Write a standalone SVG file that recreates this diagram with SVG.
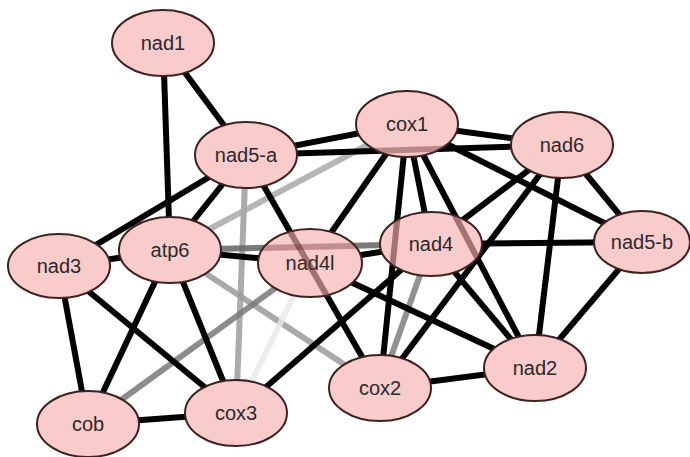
<svg xmlns="http://www.w3.org/2000/svg" width="690" height="457" viewBox="0 0 690 457">
  <style>
    .e { stroke: #000; stroke-width: 6; stroke-linecap: butt; fill: none; }
    .g { stroke-width: 6; fill: none; }
    .n ellipse { fill: #f9cbcb; stroke: #3e2222; stroke-width: 2; }
    .n text { font-family: "Liberation Sans", Arial, sans-serif; font-size: 20px; fill: #2a2a2a; text-anchor: middle; }
    .see { stroke-width: 6; fill: none; }
  </style>
  <defs>
    <clipPath id="clip-nad4l"><ellipse cx="310" cy="263" rx="51" ry="33"/></clipPath>
    <clipPath id="clip-nad4"><ellipse cx="431" cy="244" rx="50" ry="31"/></clipPath>
    <clipPath id="clip-cox1"><ellipse cx="407" cy="124" rx="50" ry="32"/></clipPath>
  </defs>
  <rect width="690" height="457" fill="#fff"/>

  <g id="connectors">
    <!-- weak interactions (grey) -->
    <line class="g" stroke="#9c9c9c" stroke-opacity="0.85" x1="246" y1="155" x2="236" y2="413"/>
    <line class="g" stroke="#a8a8a8" stroke-opacity="0.85" x1="407" y1="124" x2="170" y2="250"/>
    <line class="g" stroke="#6c6c6c" stroke-opacity="0.9" x1="170" y1="250" x2="431" y2="244"/>
    <line class="g" stroke="#9a9a9a" stroke-opacity="0.85" x1="170" y1="250" x2="380" y2="388"/>
    <line class="g" stroke="#787878" stroke-opacity="0.85" x1="88" y1="424" x2="310" y2="263"/>
    <line class="g" stroke="#e8e8e8" stroke-opacity="0.8" x1="236" y1="413" x2="310" y2="263"/>
    <line class="g" stroke="#858585" stroke-opacity="0.9" x1="380" y1="388" x2="431" y2="244"/>
    <!-- strong interactions (black) -->
    <line class="e" x1="163" y1="43" x2="246" y2="155"/>
    <line class="e" x1="163" y1="43" x2="170" y2="250"/>
    <line class="e" x1="246" y1="155" x2="407" y2="124"/>
    <line class="e" x1="246" y1="155" x2="562" y2="145"/>
    <line class="e" x1="246" y1="155" x2="59" y2="267"/>
    <line class="e" x1="246" y1="155" x2="170" y2="250"/>
    <line class="e" x1="246" y1="155" x2="380" y2="388"/>
    <line class="e" x1="407" y1="124" x2="562" y2="145"/>
    <line class="e" x1="407" y1="124" x2="310" y2="263"/>
    <line class="e" x1="407" y1="124" x2="380" y2="388"/>
    <line class="e" x1="407" y1="124" x2="431" y2="244"/>
    <line class="e" x1="407" y1="124" x2="535" y2="368"/>
    <line class="e" x1="407" y1="124" x2="642" y2="242"/>
    <line class="e" x1="562" y1="145" x2="431" y2="244"/>
    <line class="e" x1="562" y1="145" x2="380" y2="388"/>
    <line class="e" x1="562" y1="145" x2="535" y2="368"/>
    <line class="e" x1="562" y1="145" x2="642" y2="242"/>
    <line class="e" x1="642" y1="242" x2="431" y2="244"/>
    <line class="e" x1="642" y1="242" x2="535" y2="368"/>
    <line class="e" x1="431" y1="244" x2="310" y2="263"/>
    <line class="e" x1="431" y1="244" x2="535" y2="368"/>
    <line class="e" x1="431" y1="244" x2="236" y2="413"/>
    <line class="e" x1="310" y1="263" x2="535" y2="368"/>
    <line class="e" x1="170" y1="250" x2="310" y2="263"/>
    <line class="e" x1="59" y1="267" x2="170" y2="250"/>
    <line class="e" x1="59" y1="267" x2="88" y2="424"/>
    <line class="e" x1="59" y1="267" x2="236" y2="413"/>
    <line class="e" x1="170" y1="250" x2="88" y2="424"/>
    <line class="e" x1="170" y1="250" x2="236" y2="413"/>
    <line class="e" x1="88" y1="424" x2="236" y2="413"/>
    <line class="e" x1="380" y1="388" x2="535" y2="368"/>
  </g>

  <g id="node-nad1" class="n"><ellipse cx="163" cy="43" rx="51" ry="33"/><text x="163" y="50">nad1</text></g>
  <g id="node-nad5-a" class="n"><ellipse cx="246" cy="155" rx="51" ry="33"/><text x="246" y="162">nad5-a</text></g>
  <g id="node-cox1" class="n"><ellipse cx="407" cy="124" rx="51" ry="33"/><text x="407" y="131">cox1</text></g>
  <g id="node-nad6" class="n"><ellipse cx="562" cy="145" rx="51" ry="33"/><text x="562" y="152">nad6</text></g>
  <g id="node-nad5-b" class="n"><ellipse cx="642" cy="242" rx="48" ry="31"/><text x="642" y="249">nad5-b</text></g>
  <g id="node-nad3" class="n"><ellipse cx="59" cy="266" rx="51" ry="32"/><text x="59" y="273">nad3</text></g>
  <g id="node-atp6" class="n"><ellipse cx="170" cy="250" rx="51" ry="33"/><text x="170" y="257">atp6</text></g>
  <g id="node-nad4l" class="n"><ellipse cx="310" cy="263" rx="52" ry="34"/><text x="310" y="270">nad4l</text></g>
  <g id="node-nad4" class="n"><ellipse cx="431" cy="244" rx="51" ry="32"/><text x="431" y="251">nad4</text></g>
  <g id="node-nad2" class="n"><ellipse cx="535" cy="368" rx="51" ry="33"/><text x="535" y="375">nad2</text></g>
  <g id="node-cox2" class="n"><ellipse cx="380" cy="388" rx="51" ry="33"/><text x="380" y="395">cox2</text></g>
  <g id="node-cox3" class="n"><ellipse cx="236" cy="413" rx="51" ry="33"/><text x="236" y="420">cox3</text></g>
  <g id="node-cob" class="n"><ellipse cx="88" cy="424" rx="51" ry="33"/><text x="88" y="431">cob</text></g>

  <!-- edges seen through the translucent nodes they pass under -->
  <g id="edges-under-nodes">
    <line class="see" stroke="#6e3535" stroke-opacity="0.6" clip-path="url(#clip-nad4l)" x1="246" y1="155" x2="380" y2="388"/>
    <line class="see" stroke="#6e3535" stroke-opacity="0.4" clip-path="url(#clip-nad4l)" x1="170" y1="250" x2="431" y2="244"/>
    <line class="see" stroke="#6e3535" stroke-opacity="0.6" clip-path="url(#clip-nad4)" x1="407" y1="124" x2="380" y2="388"/>
    <line class="see" stroke="#6e3535" stroke-opacity="0.6" clip-path="url(#clip-nad4)" x1="407" y1="124" x2="535" y2="368"/>
    <line class="see" stroke="#6e3535" stroke-opacity="0.45" clip-path="url(#clip-cox1)" x1="246" y1="155" x2="562" y2="145"/>
  </g>
</svg>
